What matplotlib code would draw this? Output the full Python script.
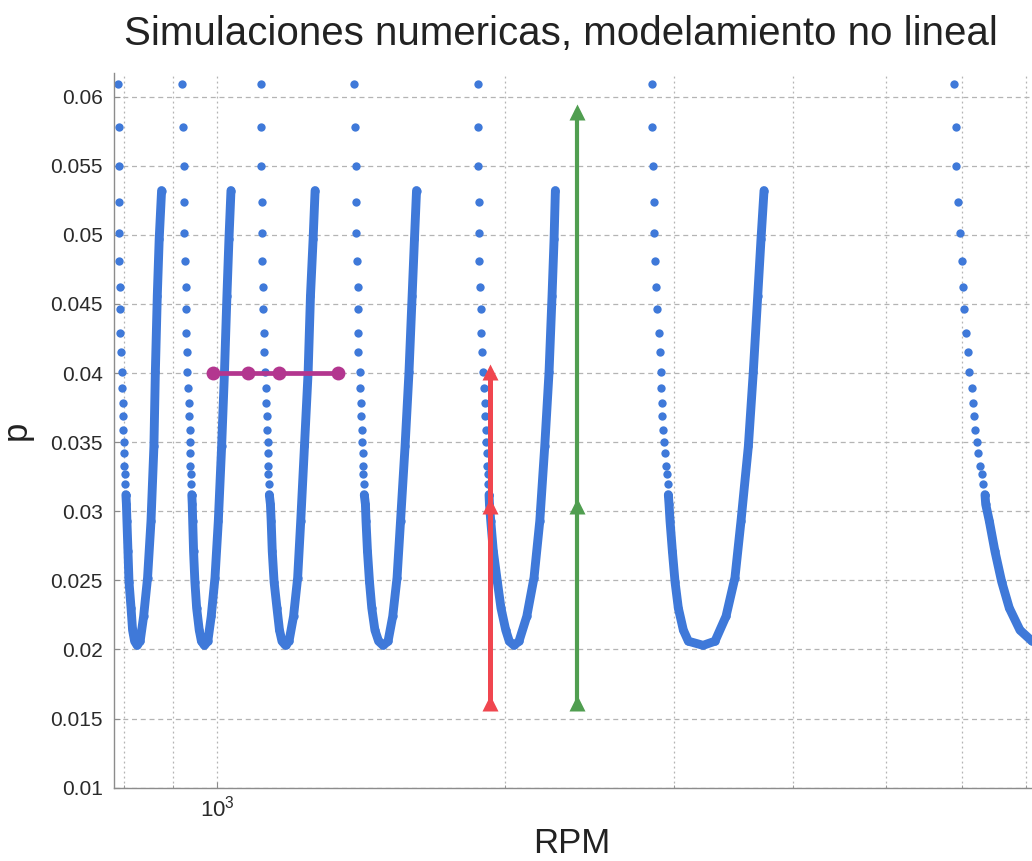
import numpy as np
import matplotlib.pyplot as plt
from matplotlib.ticker import LogLocator, NullFormatter

plt.rcParams['font.family'] = ['Liberation Sans', 'DejaVu Sans']
plt.rcParams['mathtext.fontset'] = 'custom'
plt.rcParams['mathtext.rm'] = 'Liberation Sans'
plt.rcParams['mathtext.it'] = 'Liberation Sans:italic'

# niveles de p de los puntos sueltos (rama izquierda, comunes a todas las curvas)
P_SPARSE = [0.0609, 0.0578, 0.0550, 0.0524, 0.0501, 0.0481, 0.0462, 0.0446, 0.0429,
            0.0415, 0.0401, 0.0389, 0.0378, 0.0369, 0.0359, 0.0350, 0.0342, 0.0333,
            0.0327, 0.0320, 0.0312]
# parte densa: bajada izquierda, minimo, subida derecha
P_LEFT = [0.0305, 0.0293, 0.0271, 0.0249, 0.0230, 0.0214, 0.0206]
P_MIN = [0.0203]
P_RIGHT = [0.0206, 0.0224, 0.0252, 0.0293, 0.0347, 0.0401, 0.0456, 0.0497, 0.0532]

# RPM de cada rama
U1_SPARSE = [787, 789, 790, 790, 790, 790, 792, 792, 792, 793, 795, 796, 797, 798, 798,
             799, 800, 800, 801, 801, 803]
U1_DENSE = [804, 805, 807, 809, 813, 816, 820, 825,
            831, 838, 846, 853, 859, 862, 866, 870, 875]
U2_SPARSE = [920, 922, 924, 924, 924, 926, 927, 928, 929, 930, 931, 933, 934, 935, 936,
             936, 937, 938, 939, 939, 941]
U2_DENSE = [942, 943, 945, 948, 952, 958, 963, 970,
            978, 986, 995, 1003, 1011, 1018, 1024, 1029, 1034]
U3_SPARSE = [1112, 1112, 1112, 1113, 1113, 1115, 1118, 1118, 1120, 1120, 1122, 1124, 1125,
             1127, 1127, 1129, 1130, 1131, 1131, 1132, 1134]
U3_DENSE = [1137, 1139, 1142, 1147, 1155, 1162, 1169, 1179,
            1189, 1202, 1214, 1223, 1234, 1245, 1252, 1260, 1266]
U4_SPARSE = [1391, 1394, 1396, 1397, 1397, 1400, 1402, 1402, 1405, 1405, 1411, 1411, 1413,
             1414, 1416, 1418, 1420, 1422, 1422, 1424, 1425]
U4_DENSE = [1429, 1431, 1436, 1443, 1451, 1462, 1475, 1491,
            1509, 1526, 1542, 1555, 1572, 1587, 1599, 1608, 1616]
U5_SPARSE = [1872, 1872, 1875, 1878, 1880, 1880, 1883, 1886, 1887, 1893, 1898, 1902, 1906,
             1906, 1909, 1910, 1913, 1916, 1918, 1921, 1924]
U5_DENSE = [1926, 1932, 1944, 1963, 1980, 2003, 2020, 2043,
            2068, 2107, 2144, 2174, 2200, 2223, 2239, 2250, 2257]
U6_SPARSE = [2846, 2846, 2857, 2862, 2862, 2869, 2873, 2882, 2893, 2903, 2908, 2910, 2915,
             2919, 2926, 2931, 2938, 2943, 2950, 2958, 2962]
U6_DENSE = [2967, 2974, 2991, 3010, 3034, 3071, 3108, 3220,
            3314, 3403, 3477, 3528, 3591, 3634, 3673, 3702, 3729]
U7_SPARSE = [5890, 5914, 5918, 5942, 5975, 6000, 6023, 6037, 6062, 6096, 6111, 6146, 6161,
             6180, 6195, 6220, 6244, 6270, 6296, 6320, 6346]
U7_DENSE = [6357, 6412, 6500, 6606, 6728, 6903, 7106]

# linea magenta y flechas
MAG_RPM = [990, 1077, 1161, 1338]
MAG_P = 0.0400
RED_RPM = 1929
RED_P = [0.0161, 0.0304, 0.0401]
GREEN_RPM = 2378
GREEN_P = [0.0161, 0.0304, 0.0589]

Y_TICKS = [0.01, 0.015, 0.02, 0.025, 0.03, 0.035, 0.04, 0.045, 0.05, 0.055, 0.06]
Y_LABELS = ['0.01', '0.015', '0.02', '0.025', '0.03', '0.035', '0.04', '0.045',
            '0.05', '0.055', '0.06']
X_TICKS = [1000]
X_LABELS = ['$10^{3}$']

BLUE = '#3f79d9'
MAGENTA = '#b3368f'
RED = '#f0464f'
GREEN = '#509e50'

fig = plt.figure(figsize=(10.32, 8.61), dpi=100)
ax = fig.add_axes([0.1105, 0.0851, 0.8895, 0.8301])
ax.set_xscale('log')

P_DENSE = P_LEFT + P_MIN + P_RIGHT
branches = [(U1_SPARSE, U1_DENSE), (U2_SPARSE, U2_DENSE), (U3_SPARSE, U3_DENSE),
            (U4_SPARSE, U4_DENSE), (U5_SPARSE, U5_DENSE), (U6_SPARSE, U6_DENSE),
            (U7_SPARSE, U7_DENSE)]
for sparse, dense in branches:
    ax.plot(sparse, P_SPARSE, 'o', ms=6.0, color=BLUE, mec='none', zorder=2)
    p_d = P_DENSE[:len(dense)]
    ax.plot([sparse[-1]] + dense, [P_SPARSE[-1]] + p_d, '-o', color=BLUE, lw=6.4,
            ms=6.0, mec='none', solid_capstyle='round', solid_joinstyle='round', zorder=2)

ax.plot(MAG_RPM, [MAG_P] * len(MAG_RPM), '-o', color=MAGENTA, lw=3.4, ms=10,
        mec='none', zorder=4)
ax.plot([RED_RPM] * len(RED_P), RED_P, '-^', color=RED, lw=3.6, ms=12, mec='none', zorder=3)
ax.plot([GREEN_RPM] * len(GREEN_P), GREEN_P, '-^', color=GREEN, lw=3.0, ms=12, mec='none',
        zorder=3)

ax.set_xlim(780.4, 7106)
ax.set_ylim(0.01, 0.0617)

ax.set_xticks(X_TICKS)
ax.set_xticklabels(X_LABELS)
ax.xaxis.set_minor_locator(LogLocator(base=10, subs=np.arange(2, 10)))
ax.xaxis.set_minor_formatter(NullFormatter())
ax.set_yticks(Y_TICKS)
ax.set_yticklabels(Y_LABELS)

ax.set_axisbelow(True)
ax.grid(True, which='major', axis='y', color='#b4b4b4', lw=0.9, ls=(0, (4, 3)))
ax.grid(True, which='both', axis='x', color='#b4b4b4', lw=0.9, ls=(0, (1.5, 2.5)))

ax.tick_params(which='both', direction='in', color='#8c8c8c', labelsize=15,
               labelcolor='#2a2a2a')
ax.tick_params(axis='y', length=4, pad=8)
ax.tick_params(axis='x', which='major', length=4, pad=6, labelsize=16)
ax.tick_params(axis='x', which='minor', length=2.5)

for s in ['top', 'right']:
    ax.spines[s].set_visible(False)
for s in ['left', 'bottom']:
    ax.spines[s].set_color('#8c8c8c')
    ax.spines[s].set_linewidth(1.0)

fig.text(561 / 1032, 1 - 45 / 861, 'Simulaciones numericas, modelamiento no lineal',
         ha='center', va='baseline', fontsize=29, color='#222222')
fig.text(572 / 1032, 1 - 853 / 861, 'RPM', ha='center', va='baseline', fontsize=25,
         color='#222222')
fig.text(16 / 1032, 1 - 430 / 861, 'p', ha='center', va='center', rotation=90,
         fontsize=25, color='#222222')

fig.savefig('out.png', dpi=100)
